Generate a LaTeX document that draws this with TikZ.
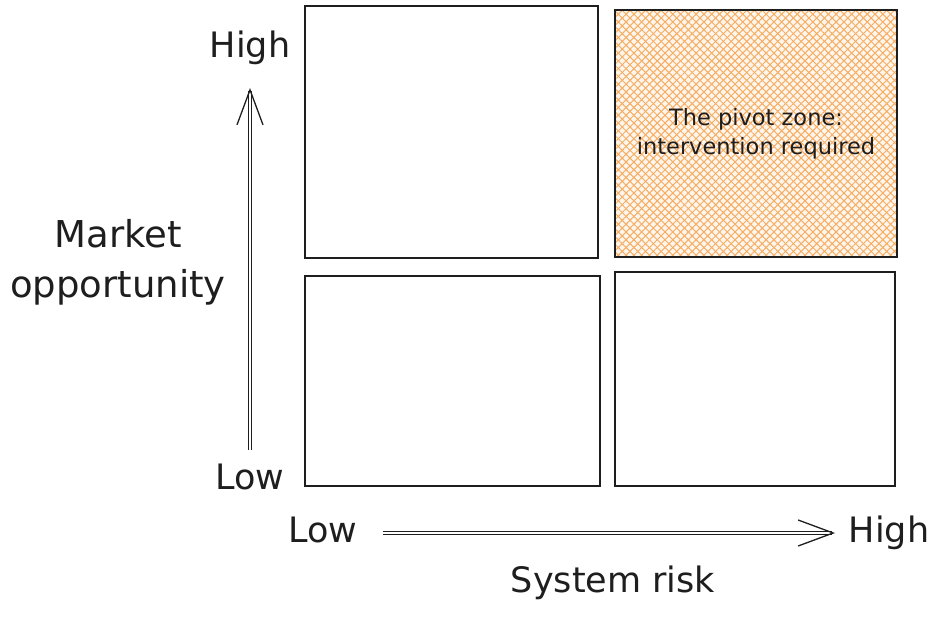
\documentclass[tikz,border=0pt]{standalone}
\usepackage{fontspec}
\setmainfont{DejaVu Sans}
\usetikzlibrary{arrows.meta,patterns.meta}
\definecolor{inkBlack}{HTML}{1E1E1E}
\definecolor{zoneOrange}{HTML}{F6AD62}

\begin{document}
\begin{tikzpicture}[x=1pt,y=-1pt,line width=1.1pt,inkBlack,
  quad/.style={draw, inner sep=0pt},
  hatch/.style={quad, align=center, font=\fontsize{22.5}{29}\selectfont,
    preaction={fill=zoneOrange!12},
    preaction={pattern={Lines[angle=45,distance=5.5pt,line width=1pt]}, pattern color=zoneOrange},
    preaction={pattern={Lines[angle=-45,distance=5.5pt,line width=1pt]}, pattern color=zoneOrange}},
  axis/.style={double, double distance=2.2pt, -{Straight Barb[length=35pt,width=26pt,line width=1.3pt]}},
  big/.style={font=\fontsize{35}{50}\selectfont, align=center}]
\useasboundingbox[fill=white] (0,0) rectangle (931,617);
% quadrants
\node[quad]  (lowhigh)  at (451.5,132) [minimum width=293pt, minimum height=252pt] {};
\node[hatch] (pivot)    at (756,133.5) [minimum width=282pt, minimum height=247pt]
  {The pivot zone:\\intervention required};
\node[quad]  (lowlow)   at (452.5,381) [minimum width=295pt, minimum height=210pt] {};
\node[quad]  (highlow)  at (755,379)   [minimum width=280pt, minimum height=214pt] {};
% axes
\coordinate (ybot) at (250,450);
\coordinate (ytop) at (250,88);
\coordinate (xleft) at (383,533);
\coordinate (xright) at (835,533);
\draw[axis] (ybot) -- (ytop);
\draw[axis] (xleft) -- (xright);
% axis labels
\node[big] (yhigh)  at (250,48)  {High};
\node[big] (ylow)   at (250,477) {Low};
\node[big,font=\fontsize{37}{50}\selectfont] (ytitle) at (118,262) {Market\\opportunity};
\node[big] (xlow)   at (323,530) {Low};
\node[big] (xhigh)  at (889,533) {High};
\node[big] (xtitle) at (613,583) {System risk};
\end{tikzpicture}
\end{document}
